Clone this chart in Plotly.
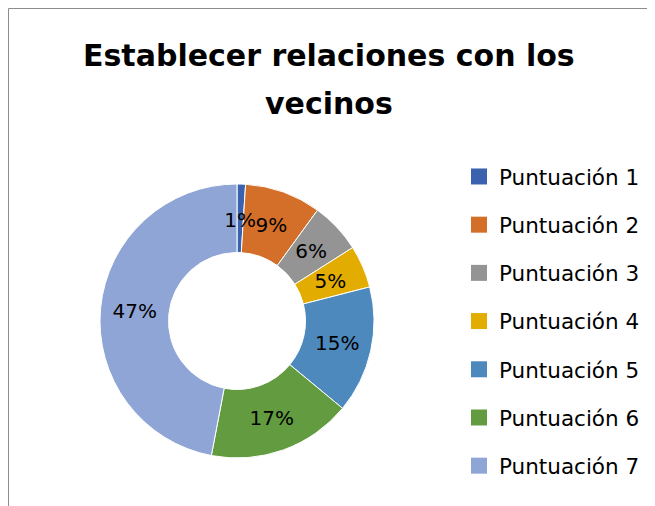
import plotly.graph_objects as go

labels = ["Puntuación 1", "Puntuación 2", "Puntuación 3", "Puntuación 4",
          "Puntuación 5", "Puntuación 6", "Puntuación 7"]
values = [1, 9, 6, 5, 15, 17, 47]
colors = ["#3A62AE", "#D46F2A", "#949494", "#E2AC00", "#4E89BE", "#629B40", "#8FA5D6"]
title_lines = ["Establecer relaciones con los", "vecinos"]

FONT = "DejaVu Sans"
W, H = 647, 498          # page is offset by 8px body margin
cx, cy, R = 229, 313, 137

total = sum(values)
share = [v / total for v in values]
PCT = "%{percent:.0%}"
big_tpl = [PCT if s >= 0.10 else "" for s in share]                 # labels on wide slices
mid_tpl = [PCT if 0.02 <= s < 0.10 else "" for s in share]          # labels on narrow slices
thin_tpl = [PCT if s < 0.02 else "" for s in share]                 # labels on very thin slices


def dom(r):
    return dict(x=[(cx - r) / W, (cx + r) / W], y=[(H - cy - r) / H, (H - cy + r) / H])


def label_ring(tpl, radius, hole):
    """Transparent companion pie that only carries labels at mid-ring of the donut."""
    return go.Pie(
        labels=labels, values=values, hole=hole, sort=False,
        direction="clockwise", rotation=0,
        marker=dict(colors=["rgba(0,0,0,0)"] * len(values), line=dict(width=0)),
        texttemplate=tpl, textposition="inside", insidetextorientation="horizontal",
        textfont=dict(family=FONT, size=20, color="black"),
        showlegend=False, hoverinfo="skip", domain=dom(radius),
    )


fig = go.Figure()
fig.add_trace(go.Pie(
    labels=labels, values=values, hole=0.5, sort=False,
    direction="clockwise", rotation=0,
    marker=dict(colors=colors, line=dict(color="white", width=1)),
    texttemplate=big_tpl, textposition="inside", insidetextorientation="horizontal",
    textfont=dict(family=FONT, size=20, color="black"),
    showlegend=False, hoverinfo="label+percent",
    domain=dom(R),
))
fig.add_trace(label_ring(mid_tpl, 113, 0.8))
fig.add_trace(label_ring(thin_tpl, 104, 0))

# legend entries (one per category)
for lab, col in zip(labels, colors):
    fig.add_trace(go.Scatter(
        x=[None], y=[None], mode="markers", name=lab, legendgroup=lab,
        marker=dict(symbol="square", size=16, color=col, line=dict(width=0)),
    ))

LEG_FS = 21.5
fig.update_layout(
    width=W, height=H,
    margin=dict(l=0, r=0, t=0, b=0),
    paper_bgcolor="white", plot_bgcolor="white",
    font=dict(family=FONT, color="black"),
    xaxis=dict(visible=False), yaxis=dict(visible=False),
    uniformtext=dict(minsize=20, mode="show"),
    legend=dict(x=451 / W, xanchor="left", y=1 - 148 / H, yanchor="top",
                font=dict(family=FONT, size=LEG_FS, color="black"),
                traceorder="grouped", tracegroupgap=48.2 - (1.3 * LEG_FS + 3),
                bgcolor="rgba(0,0,0,0)", itemsizing="trace"),
    annotations=[
        dict(text=title_lines[0], xref="paper", yref="paper", x=320.5 / W, y=1 - 48 / H,
             xanchor="center", yanchor="middle", showarrow=False,
             font=dict(family=FONT, size=30, color="black", weight="bold")),
        dict(text=title_lines[1], xref="paper", yref="paper", x=320.5 / W, y=1 - 96 / H,
             xanchor="center", yanchor="middle", showarrow=False,
             font=dict(family=FONT, size=30, color="black", weight="bold")),
    ],
    shapes=[dict(type="rect", xref="paper", yref="paper", x0=0.5 / W, x1=1.05,
                 y0=-0.05, y1=1 - 0.5 / H, line=dict(color="#8C8C8C", width=1))],
)

fig.write_html("out.html")
